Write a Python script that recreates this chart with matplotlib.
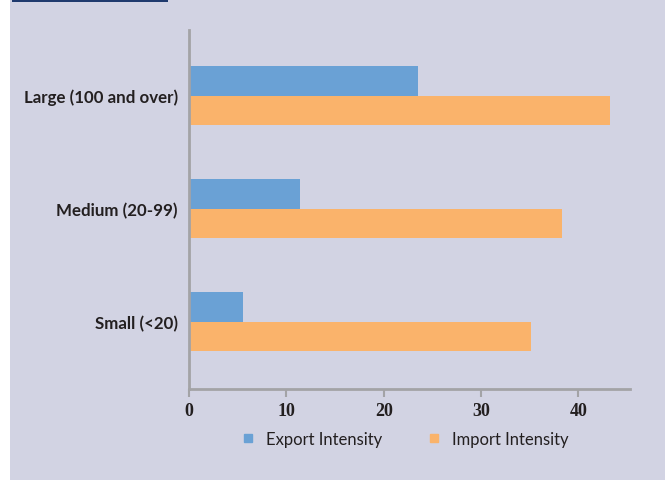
import numpy as np
import matplotlib
matplotlib.use("Agg")
import matplotlib.pyplot as plt
from matplotlib.patches import Rectangle
from matplotlib.lines import Line2D

# data
categories = ["Small (<20)", "Medium (20-99)", "Large (100 and over)"]
export_intensity = [5.5, 11.4, 23.5]
import_intensity = [35.1, 38.3, 43.2]
series_names = ["Export Intensity", "Import Intensity"]
xticks = [0, 10, 20, 30, 40]

BG = "#d2d3e3"
BLUE = "#6aa1d5"
ORANGE = "#fab36b"
NAVY = "#1f3a6e"
AXIS = "#a3a3a6"
TXT = "#231f20"

fig = plt.figure(figsize=(6.65, 4.81), dpi=100)
fig.patch.set_facecolor("white")
# lavender panel and navy strip on top
fig.patches.append(Rectangle((10 / 665, 0), 1, 1, transform=fig.transFigure,
                             facecolor=BG, edgecolor="none", zorder=-10))
fig.patches.append(Rectangle((12 / 665, 1 - 3 / 481), 156 / 665, 3 / 481,
                             transform=fig.transFigure, facecolor=NAVY,
                             edgecolor="none", zorder=-9))

ax = fig.add_axes([189 / 665, 1 - 389.5 / 481, 441 / 665, 358.5 / 481])
ax.set_facecolor("none")
ax.set_zorder(2)

y = np.arange(len(categories))
h = 0.265
ax.barh(y + h / 2, export_intensity, height=h, color=BLUE, label=series_names[0])
ax.barh(y - h / 2, import_intensity, height=h, color=ORANGE, label=series_names[1])

ax.set_xlim(0, 45.3)
ax.set_ylim(-0.593, 2.58)
ax.set_xticks(xticks)
ax.set_xticklabels([str(t) for t in xticks], family="Liberation Serif",
                   fontweight="bold", fontsize=13, color=TXT)
ax.set_yticks(y)
ax.set_yticklabels(categories, family="Lato", fontweight="bold",
                   fontsize=12.2, color=TXT)

for s in ["top", "right"]:
    ax.spines[s].set_visible(False)
for s in ["left", "bottom"]:
    ax.spines[s].set_color(AXIS)
    ax.spines[s].set_linewidth(2)
ax.tick_params(axis="x", length=6, width=1.5, color=AXIS, pad=4)
ax.tick_params(axis="y", length=0, pad=8)

handles = [Line2D([], [], marker="s", linestyle="none", markersize=6,
                  markerfacecolor=c, markeredgecolor=c) for c in (BLUE, ORANGE)]
fig.legend(handles, series_names, loc="center", ncol=2,
           bbox_to_anchor=(404 / 665, 1 - 440 / 481), frameon=False,
           prop={"family": "Lato", "size": 12}, labelcolor=TXT,
           handletextpad=0.6, columnspacing=2.6, handlelength=1.0)

plt.savefig("out.png", dpi=100, facecolor=fig.get_facecolor())
